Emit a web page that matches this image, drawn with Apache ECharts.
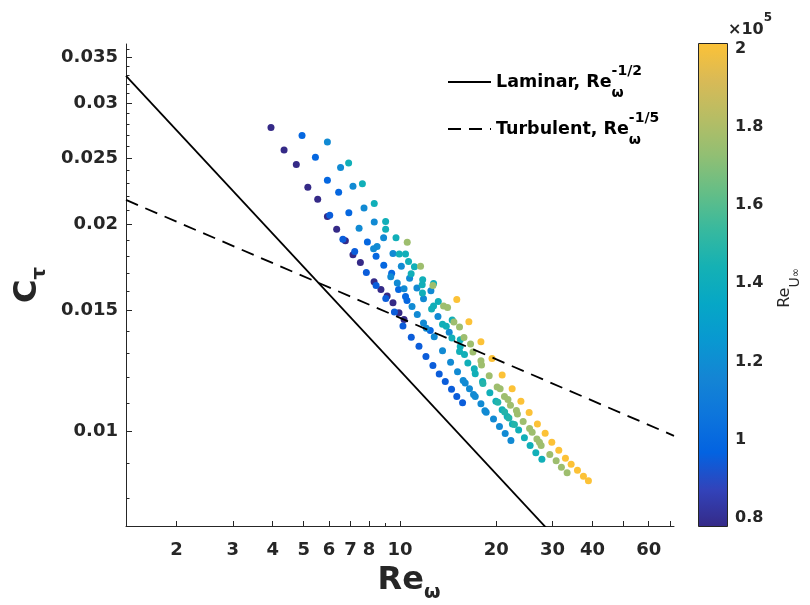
<!DOCTYPE html>
<html><head><meta charset="utf-8">
<script src="https://cdn.jsdelivr.net/npm/echarts@6/dist/echarts.min.js"></script>
<style>html,body{margin:0;padding:0;background:#fff}#c{width:810px;height:605px}</style>
</head><body><div id="c"></div>
<script>
// ---- data (Re_omega, C_tau) grouped by Re_U_inf (x1e5) ----
const reU_P = 0.776;
const reW_P = [3.95,4.34,4.74,5.15,5.53,5.93,6.34,6.75,7.13,7.52,8.30,8.72,9.12,9.51,9.93,10.30];
const ct_P  = [0.02768,0.02567,0.02446,0.02266,0.02177,0.02055,0.01969,0.01895,0.01808,0.01761,0.01652,0.01609,0.01575,0.01539,0.01489,0.01455];

const reU_B1 = 0.99;
const reW_B1 = [4.94,5.44,5.93,6.43,6.92,7.91,8.42,8.90,9.42,9.90,10.41,10.52,12.44];
const ct_B1  = [0.02696,0.02505,0.02319,0.02228,0.02081,0.01886,0.01799,0.01746,0.01699,0.01609,0.01572,0.01551,0.01403];

const reU_B2 = 0.95;
const reW_B2 = [6.03,6.63,7.22,7.85,8.42,9.03,9.61,10.22,10.85,11.47,12.06,12.68,13.27,13.86,14.50,15.06,15.70];
const ct_B2  = [0.02063,0.01904,0.01827,0.01703,0.01631,0.01562,0.01493,0.01424,0.01371,0.01331,0.01286,0.01248,0.01213,0.01183,0.01152,0.01125,0.01101];

const reU_LB = 1.18;
const reW_LB = [5.93,6.52,7.13,7.72,7.45,8.31,8.89,8.48,8.27,9.51,10.10,9.36,10.30,9.81,10.72,11.30,10.91,11.33,11.85,11.85,12.09,12.80,12.50,13.15,13.59,14.26,14.40,15.14,15.77,16.00,16.50,16.99,17.20,17.92,18.44,18.61,19.62,20.48,21.34,22.24];
const ct_LB  = [0.02636,0.02422,0.02273,0.02114,0.01975,0.02017,0.01914,0.01858,0.01844,0.01815,0.01739,0.01680,0.01613,0.01644,0.01671,0.01617,0.01520,0.01480,0.01560,0.01439,0.01414,0.01374,0.01602,0.01470,0.01311,0.01395,0.01261,0.01222,0.01187,0.01177,0.01154,0.01132,0.01125,0.01098,0.01072,0.01067,0.01043,0.010169,0.009933,0.009704];

const reU_T = 1.42;
const reW_T = [6.91,7.63,8.31,9.02,9.02,9.72,9.95,10.41,10.64,11.10,10.84,11.78,11.74,12.74,11.76,13.18,12.74,12.56,13.59,13.96,14.57,14.54,15.44,15.36,15.44,15.92,16.31,17.08,17.20,18.13,19.11,19.96,20.88,21.65,22.48,23.51,24.51,25.54,26.61,27.80];
const ct_T  = [0.02457,0.02293,0.02147,0.0202,0.01969,0.01914,0.01813,0.01813,0.01768,0.01736,0.01696,0.01662,0.01635,0.01642,0.0159,0.01546,0.01523,0.01508,0.01433,0.01423,0.01453,0.01368,0.0136,0.01308,0.0133,0.01294,0.01258,0.01234,0.01214,0.01183,0.01139,0.01107,0.01076,0.01052,0.01026,0.01005,0.009792,0.009543,0.009313,0.009116];

const reU_T2 = 1.48;
const reW_T2 = [18.18,20.24,21.26,21.92,22.81];
const ct_T2  = [0.01175,0.01103,0.01068,0.01047,0.01024];

const reU_G = 1.76;
const reW_G = [10.54,11.60,12.68,13.69,14.09,14.75,15.36,15.86,16.63,16.92,17.92,18.00,19.02,20.14,20.58,21.23,21.77,22.17,23.14,23.31,24.29,25.44,25.92,26.82,27.32,27.65,29.43,30.81,32.00,33.34];
const ct_G  = [0.01885,0.0174,0.01631,0.01523,0.01515,0.01443,0.01419,0.0137,0.01341,0.01305,0.01268,0.0125,0.01206,0.01161,0.01154,0.01125,0.01113,0.01092,0.01073,0.01061,0.01034,0.010108,0.009977,0.009759,0.009649,0.009543,0.009261,0.009067,0.008875,0.008711];

const reU_Y = 2.015;
const reW_Y = [15.06,16.43,17.92,19.41,20.88,22.44,23.90,25.36,26.92,28.46,29.86,31.40,32.94,34.32,35.92,37.50,38.87];
const ct_Y  = [0.01556,0.01445,0.01351,0.01277,0.01209,0.01154,0.01107,0.01066,0.01026,0.009943,0.009649,0.009394,0.009147,0.008966,0.008788,0.008613,0.008481];

// theory lines (end points)
const laminarX = [1.39, 30];
const laminarY = [0.0329, 0.007084];
const turbX = [1.39, 72];
const turbY = [0.02172, 0.00986];

// ticks
const xTickVals = [2,3,4,5,6,7,8,10,20,30,40,50,60,70];
const xLabelVals = [2,3,4,5,6,7,8,10,20,30,40,60];
const xMinorVals = [9];
const yTickVals = [0.01,0.015,0.02,0.025,0.03,0.035];
const yMinorVals = [0.008,0.009,0.011,0.012,0.013,0.014,0.016,0.017,0.018,0.019,0.021,0.022,0.023,0.024,0.026,0.027,0.028,0.029,0.031,0.032,0.033,0.034,0.036];
const cbTickVals = [0.8,1,1.2,1.4,1.6,1.8,2];
const cbMin = 0.776, cbMax = 2.015;

const parula = ['#352a87','#3243ba','#0363e1','#0d75dc','#1485d4','#0998d1','#06a7c6','#15b1b4','#38b99e','#65be86','#92bf73','#b7bd64','#d9ba56','#fcc237'];

// ---- build ----
const groups = [
  [reU_P, reW_P, ct_P], [reU_B2, reW_B2, ct_B2], [reU_B1, reW_B1, ct_B1],
  [reU_LB, reW_LB, ct_LB], [reU_T, reW_T, ct_T], [reU_T2, reW_T2, ct_T2],
  [reU_G, reW_G, ct_G], [reU_Y, reW_Y, ct_Y]
];
const pts = [];
groups.forEach(g => g[1].forEach((x, i) => pts.push([x, g[2][i], g[0]])));

const FF = 'DejaVu Sans';
const TXT = '#262626';
const tickLab = {fontFamily: FF, fontSize: 18, fontWeight: 'bold', color: TXT};

const chart = echarts.init(document.getElementById('c'), null, {renderer: 'canvas'});
const stops = parula.map((c, i) => ({offset: i / (parula.length - 1), color: c}));

chart.setOption({
  animation: false,
  backgroundColor: '#fff',
  grid: [
    {left: 126, top: 44, width: 548, height: 482, outerBoundsMode: 'none', containLabel: false},
    {left: 698, top: 43, width: 30, height: 484, outerBoundsMode: 'none', containLabel: false}
  ],
  xAxis: [
    {gridIndex: 0, type: 'log', logBase: 10, min: 1.39, max: 72, position: 'bottom',
     axisLine: {show: true, lineStyle: {color: TXT, width: 1}},
     axisTick: {show: true, inside: true, length: 5, customValues: xTickVals, lineStyle: {color: TXT, width: 1}},
     minorTick: {show: false}, splitLine: {show: false},
     axisLabel: Object.assign({show: true, margin: 15, customValues: xLabelVals, formatter: v => String(v)}, tickLab),
     name: '{a|Re}{b|ω}', nameLocation: 'middle', nameGap: 33,
     nameTextStyle: {padding: [0, 0, 0, 18], rich: {
       a: {fontFamily: FF, fontSize: 32, fontWeight: 'bold', color: TXT, lineHeight: 44, verticalAlign: 'middle'},
       b: {fontFamily: FF, fontSize: 19, fontWeight: 'bold', color: TXT, lineHeight: 16, verticalAlign: 'bottom'}}}
    },
    {gridIndex: 0, type: 'log', logBase: 10, min: 1.39, max: 72, position: 'bottom', offset: 0,
     axisLine: {show: false}, axisLabel: {show: false}, splitLine: {show: false},
     axisTick: {show: true, inside: true, length: 3, customValues: xMinorVals, lineStyle: {color: TXT, width: 1}}},
    {gridIndex: 1, type: 'category', data: ['cb'], show: false}
  ],
  yAxis: [
    {gridIndex: 0, type: 'log', logBase: 10, min: 0.00729, max: 0.03661, position: 'left',
     axisLine: {show: true, lineStyle: {color: TXT, width: 1}},
     axisTick: {show: true, inside: true, length: 6, customValues: yTickVals, lineStyle: {color: TXT, width: 1}},
     minorTick: {show: false}, splitLine: {show: false},
     axisLabel: Object.assign({show: true, margin: 8, customValues: yTickVals, formatter: v => String(v)}, tickLab),
     name: '{a|C}{b|τ}', nameLocation: 'middle', nameGap: 56, nameRotate: 90,
     nameTextStyle: {rich: {
       a: {fontFamily: FF, fontSize: 32, fontWeight: 'bold', color: TXT, lineHeight: 44, verticalAlign: 'middle'},
       b: {fontFamily: FF, fontSize: 20, fontWeight: 'bold', color: TXT, lineHeight: 16, verticalAlign: 'bottom'}}}
    },
    {gridIndex: 0, type: 'log', logBase: 10, min: 0.00729, max: 0.03661, position: 'left', offset: 0,
     axisLine: {show: false}, axisLabel: {show: false}, splitLine: {show: false},
     axisTick: {show: true, inside: true, length: 3.5, customValues: yMinorVals, lineStyle: {color: TXT, width: 1}}},
    {gridIndex: 1, type: 'value', min: cbMin, max: cbMax, position: 'right',
     axisLine: {show: false}, splitLine: {show: false},
     axisTick: {show: true, inside: true, length: 4, customValues: cbTickVals, lineStyle: {color: TXT, width: 1}},
     axisLabel: {show: true, margin: 7, customValues: cbTickVals, formatter: v => String(v),
                 fontFamily: FF, fontSize: 16, fontWeight: 'bold', color: TXT},
     name: '{a|Re}{b|U}{c|∞}', nameLocation: 'middle', nameRotate: 90, nameGap: 40,
     nameTextStyle: {padding: [0, 6, 0, 0], rich: {
       a: {fontFamily: FF, fontSize: 16, color: TXT, lineHeight: 34, verticalAlign: 'middle'},
       b: {fontFamily: FF, fontSize: 14, color: TXT, lineHeight: 16, verticalAlign: 'bottom'},
       c: {fontFamily: FF, fontSize: 11, color: TXT, lineHeight: 8, verticalAlign: 'bottom'}}}
    }
  ],
  visualMap: {type: 'continuous', show: false, min: cbMin, max: cbMax, dimension: 2, seriesIndex: 0,
              inRange: {color: parula}},
  legend: {
    orient: 'vertical', left: 447, top: 64, padding: 0, itemWidth: 43, itemHeight: 14, itemGap: 11,
    itemStyle: {opacity: 0, color: 'rgba(0,0,0,0)', borderWidth: 0},
    data: ['Laminar', 'Turbulent'],
    formatter: n => n === 'Laminar' ? '{m|Laminar, Re}{sub|ω}{sup|-1/2}' : '{m|Turbulent, Re}{sub|ω}{sup|-1/5}',
    textStyle: {rich: {
      m: {fontFamily: FF, fontSize: 17.5, fontWeight: 'bold', color: '#000', lineHeight: 36, verticalAlign: 'middle'},
      sub: {fontFamily: FF, fontSize: 14, fontWeight: 'bold', color: '#000', lineHeight: 16, verticalAlign: 'bottom', width: 0},
      sup: {fontFamily: FF, fontSize: 14, fontWeight: 'bold', color: '#000', lineHeight: 20, verticalAlign: 'top'}}}
  },
  series: [
    {type: 'scatter', xAxisIndex: 0, yAxisIndex: 0, symbol: 'circle', symbolSize: 7, data: pts,
     itemStyle: {opacity: 1}},
    {name: 'Laminar', type: 'line', xAxisIndex: 0, yAxisIndex: 0, symbol: 'none', showSymbol: false, clip: true,
     data: laminarX.map((x, i) => [x, laminarY[i]]), lineStyle: {color: '#000', width: 1.8}, itemStyle: {color: '#000'}},
    {name: 'Turbulent', type: 'line', xAxisIndex: 0, yAxisIndex: 0, symbol: 'none', showSymbol: false, clip: true,
     data: turbX.map((x, i) => [x, turbY[i]]), lineStyle: {color: '#000', width: 1.8, type: [13, 8]}, itemStyle: {color: '#000'}},
    {type: 'bar', xAxisIndex: 2, yAxisIndex: 2, stack: 'cb', barWidth: '100%', silent: true,
     data: [cbMin], itemStyle: {color: 'rgba(0,0,0,0)'}},
    {type: 'bar', xAxisIndex: 2, yAxisIndex: 2, stack: 'cb', barWidth: '100%', silent: true,
     data: [cbMax - cbMin],
     itemStyle: {color: new echarts.graphic.LinearGradient(0, 1, 0, 0, stops), borderColor: TXT, borderWidth: 1}}
  ],
  graphic: [
    {type: 'text', left: 728, top: 12, style: {text: '{a|×10}{b|5}',
      rich: {a: {fontFamily: FF, fontSize: 16, fontWeight: 'bold', fill: TXT, lineHeight: 26, verticalAlign: 'bottom'},
             b: {fontFamily: FF, fontSize: 12, fontWeight: 'bold', fill: TXT, lineHeight: 12, verticalAlign: 'top'}}}}
  ]
});
</script></body></html>
